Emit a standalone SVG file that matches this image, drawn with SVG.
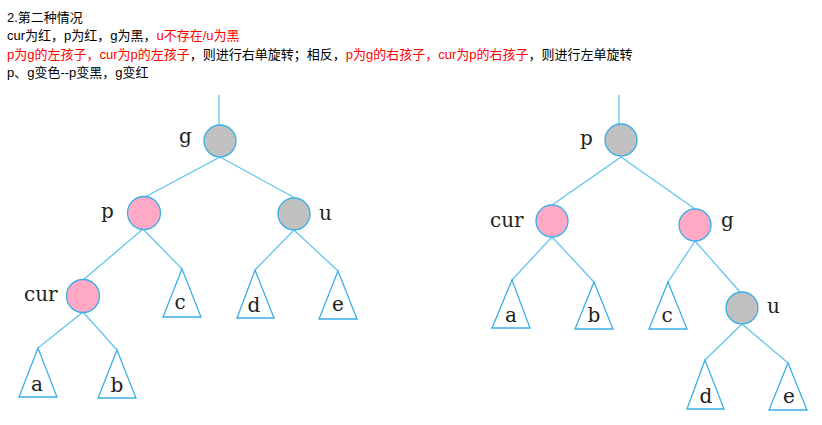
<svg xmlns="http://www.w3.org/2000/svg" width="822" height="425" viewBox="0 0 822 425">
<style>
.t{font-family:"Liberation Sans","Noto Sans CJK SC",sans-serif;font-size:13px;fill:#000}
.r{fill:#ff0000}
.e{stroke:#5cc3ee;stroke-width:1.2;fill:none}
.n circle{stroke:#3aaee6;stroke-width:1.3}
.red{fill:#ffa9c5}
.blk{fill:#c0c0c0}
.tri polygon{fill:#fff;stroke:#3aaee6;stroke-width:1.3}
.lb{font-family:"DejaVu Serif",serif;font-size:20px;fill:#222}
.tl{font-family:"DejaVu Serif",serif;font-size:20px;fill:#222;text-anchor:middle}
</style>
<rect width="822" height="425" fill="#fff"/>
<g id="text">
<text class="t" x="7" y="22">2.第二种情况</text>
<text class="t" x="7" y="40">cur为红，p为红，g为黑，<tspan class="r">u不存在/u为黑</tspan></text>
<text class="t" x="7" y="59"><tspan class="r">p为g的左孩子，cur为p的左孩子</tspan>，则进行右单旋转；相反，<tspan class="r">p为g的右孩子，cur为p的右孩子</tspan>，则进行左单旋转</text>
<text class="t" x="7" y="77">p、g变色--p变黑，g变红</text>
</g>
<g id="connectors">
<line class="e" x1="219" y1="95" x2="219" y2="124"/>
<line class="e" x1="220" y1="157" x2="145" y2="197"/>
<line class="e" x1="220" y1="157" x2="295" y2="198"/>
<line class="e" x1="143" y1="229" x2="83" y2="280"/>
<line class="e" x1="143" y1="229" x2="182" y2="269"/>
<line class="e" x1="294" y1="230" x2="255" y2="270"/>
<line class="e" x1="294" y1="230" x2="338" y2="271"/>
<line class="e" x1="83" y1="312" x2="38" y2="348"/>
<line class="e" x1="83" y1="312" x2="117" y2="350"/>
<line class="e" x1="619" y1="95" x2="619" y2="124"/>
<line class="e" x1="621" y1="157" x2="552" y2="205"/>
<line class="e" x1="621" y1="157" x2="695" y2="209"/>
<line class="e" x1="552" y1="237" x2="512" y2="280"/>
<line class="e" x1="552" y1="237" x2="594" y2="282"/>
<line class="e" x1="695" y1="241" x2="668" y2="282"/>
<line class="e" x1="695" y1="241" x2="740" y2="292"/>
<line class="e" x1="742" y1="324" x2="705" y2="360"/>
<line class="e" x1="742" y1="324" x2="788" y2="363"/>
</g>
<g id="L-g" class="n"><circle class="blk" cx="220" cy="141" r="16"/><text class="lb" x="179" y="143">g</text></g>
<g id="L-p" class="n"><circle class="red" cx="144" cy="213" r="16.5"/><text class="lb" x="101" y="218">p</text></g>
<g id="L-u" class="n"><circle class="blk" cx="294" cy="214" r="16"/><text class="lb" x="319" y="220">u</text></g>
<g id="L-cur" class="n"><circle class="red" cx="83" cy="296" r="16.5"/><text class="lb" x="24" y="301">cur</text></g>
<g id="L-a" class="tri"><polygon points="38,348 19,397 57,397"/><text class="tl" x="37" y="391">a</text></g>
<g id="L-b" class="tri"><polygon points="117,350 98,398 136,398"/><text class="tl" x="117" y="392">b</text></g>
<g id="L-c" class="tri"><polygon points="182,269 163,317 201,317"/><text class="tl" x="180" y="309">c</text></g>
<g id="L-d" class="tri"><polygon points="255,270 237,318 274,318"/><text class="tl" x="254" y="312">d</text></g>
<g id="L-e" class="tri"><polygon points="338,271 319,319 357,319"/><text class="tl" x="338" y="311">e</text></g>
<g id="R-p" class="n"><circle class="blk" cx="621" cy="140" r="16"/><text class="lb" x="580" y="145">p</text></g>
<g id="R-cur" class="n"><circle class="red" cx="552" cy="221" r="16"/><text class="lb" x="490" y="227">cur</text></g>
<g id="R-g" class="n"><circle class="red" cx="695" cy="225" r="16"/><text class="lb" x="721" y="227">g</text></g>
<g id="R-u" class="n"><circle class="blk" cx="742" cy="308" r="16"/><text class="lb" x="767" y="313">u</text></g>
<g id="R-a" class="tri"><polygon points="512,280 492,328 530,328"/><text class="tl" x="511" y="322">a</text></g>
<g id="R-b" class="tri"><polygon points="594,282 575,329 613,329"/><text class="tl" x="594" y="322">b</text></g>
<g id="R-c" class="tri"><polygon points="668,282 649,329 687,329"/><text class="tl" x="667" y="322">c</text></g>
<g id="R-d" class="tri"><polygon points="705,360 687,409 724,409"/><text class="tl" x="706" y="403">d</text></g>
<g id="R-e" class="tri"><polygon points="788,363 769,410 807,410"/><text class="tl" x="789" y="403">e</text></g>
</svg>
